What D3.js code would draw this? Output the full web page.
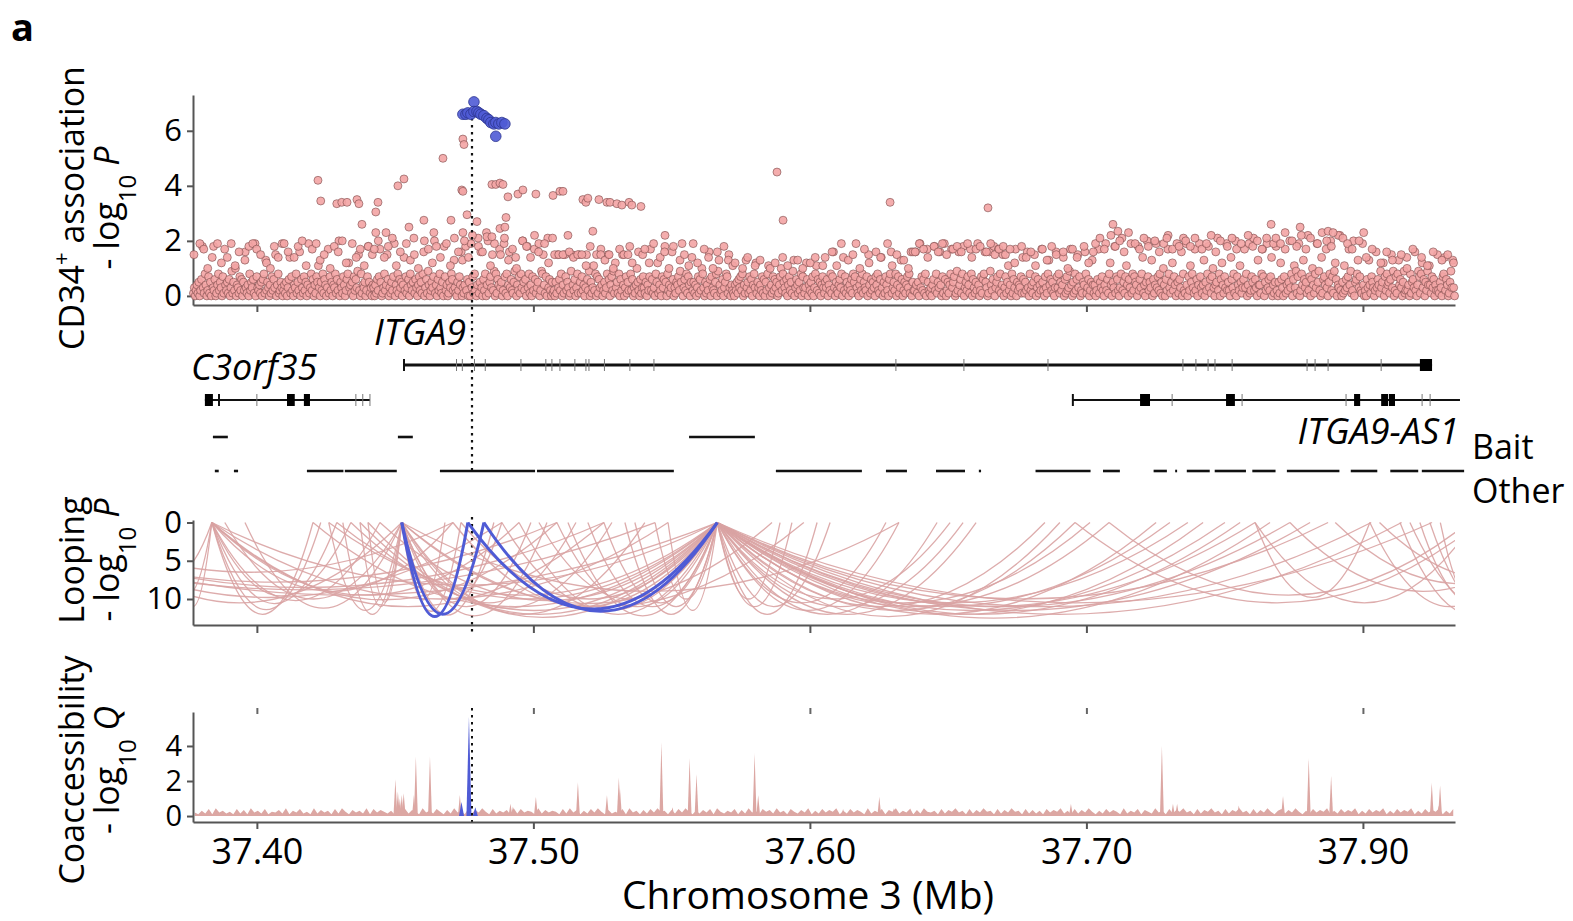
<!DOCTYPE html>
<html>
<head>
<meta charset="utf-8">
<script src="https://cdn.jsdelivr.net/npm/d3@7"></script>
<style>
body { margin: 0; background: #fff; }
text { font-family: "Open Sans", sans-serif; fill: #000; }
</style>
</head>
<body>
<svg id="chart" width="1573" height="921"></svg>
<script>
// ---- shared axis ----
var xDomain = [37.3769, 37.8333];
var xTicks = [37.40, 37.50, 37.60, 37.70, 37.80];
var xTickLabels = ["37.40", "37.50", "37.60", "37.70", "37.90"];
var leadSnp = 37.4778;

// ---- CD34+ association (-log10 P) ----
// background SNPs: one char per SNP, evenly spaced inside each row's stretch of the axis ('.' = none)
var snpAlphabet = "0123456789ABCDEFGHIJKLMNOP";   // index / 10 = -log10 P
var snpRows = [
  "1302415026I3184027150E3260148253071H42516039152A0431726052G3140825361J07324150681D2530417263F04812530",
  "2415036E1720438152G063172504J1382604175B3052816403H17250438162K0531740268C3415072639F2081435027I51304",
  "3041627H5013824F6031527J0428163504E2713608425L1630472518G03619402537K1406283150I7240153862D3105274G03",
  "14I26050J3718204L15G3062804K1573F2908164H3502J71804G362159E0427183K5260I3814072H6135J0298F4170L362051",
  "2051F3628041F7253019F4260381F5172403F6290513B2807163H4025138F6047291C3518062F4037152I8260314A5206137",
  "3150427H2613085C1420736I5082413G6031547295J0362817405E2514037162A8305142G6073215809D4126035871F30421",
  "0425163728041D3517260483C1530427160528B3041726350147A2853160472519D0364152807313C6042517038B26150473",
  "1536042817G3052146380E2715304261857J3104628153270F4162530748216E3051742068G1352804713D6025147381G052",
  "2G4150J3726180H5213046I28153G4071J6025148H3570192G4618I0352741H8063152J4027168G5301G9426I0357H2814F0",
  "3715B2408163H0524371E6152G3082415F7036142H5207318D4625103G7381524E0617239H4051826F3702154G8136025D41",
  "4026H1537204J2618C4053I1762038L2517B4063J1827540I2638E1405K7253D0614J3728150A4062H8315C2740J5163G082",
  "1J4072B5831H2604J7314D0528I3617A3045L2806C4173J2520E6381K0742B5136H3804J1275L2630D4418H7052J3627E041",
  "5I2051C6307H1425K3806B3917J0284D6351M2706A4183J5920E1674H3058K2719C6043M2051B2637H4912K0568D3721J40",
  "2063D4175302G3641935C07284516F3902718D46305912E24081563G2049718C3605294B41736042F2153078E26401593D30"
];
var snpMidRows = [
  "F..J.H.A..I.J.C..E.J.B.G..D.I.J.H.F..C.A.I.E.J",
  "J.G..E.I.K.B..H.J.D.F..A.I.G.K.C..J.E.H.B.I.F",
  "H.K..E.I.L.B.G..J.D.F.A..K.H.C.I.E..J.B.L.G.D",
  "K.E.M..I.G.N.B.J..F.L.D.H.A..K.I.E.M.G..J.C.L",
  "F.F.F..G.E.F.F.B.I..F.F.D.F.A..H.F.F.C..G.F",
  "H.C.J..E.G.A.I..D.F.B.J.C..H.E.A.G..I.D.B",
  "C..A.E..B.D...A.C..E.B...D.A..C.E..B",
  "E..G.B.J..D.F..A.H.C..G.E..J.B.F..D.A.G",
  "G.J.H.E..I.G.J.F..H.I.G..J.E.H.I..G.J.F.H.I",
  "F.H.C..I.E.G.B..H.D.I.F..G.A.H.E..I.C.G",
  "J.L.H..M.I.K.G.N..J.H.L.I..K.G.J.M.H..I.L",
  "K.I.L..H.J.M.G.K..I.L.H.J..M.I.K.H.L..J",
  "L.J.N..K.I.M.H.L..J.N.K.I..M.L.J.H..K.N",
  "E.H..C.G.D..F.A.H..E.B.G..D.F.C"
];
// isolated higher SNPs
var snpHighPos = [37.4221, 37.4231, 37.4289, 37.4307, 37.4326, 37.4362, 37.4369, 37.4380, 37.4430, 37.4438,
  37.4430, 37.4467, 37.4510, 37.4532, 37.4550, 37.4604, 37.4640, 37.4673, 37.4702, 37.4741,
  37.4745, 37.4745, 37.4749, 37.4745, 37.4760, 37.4796, 37.4832, 37.4850, 37.4850, 37.4864,
  37.4879, 37.4890, 37.4879, 37.4897, 37.4901, 37.4908, 37.4944, 37.4962, 37.5009, 37.5071,
  37.5096, 37.5107, 37.5125, 37.5179, 37.5190, 37.5197, 37.5215, 37.5237, 37.5266, 37.5277,
  37.5302, 37.5320, 37.5346, 37.5356, 37.5389, 37.5476, 37.5881, 37.5903, 37.6290, 37.6644,
  37.7096, 37.7114, 37.7291, 37.7668, 37.7773, 37.7874, 37.7892];
var snpHighVal = [4.2, 3.45, 3.35, 3.4, 3.4, 3.5, 3.35, 2.6, 3.05, 3.4,
  2.3, 2.3, 4.0, 4.25, 2.5, 2.75, 2.3, 5.0, 2.75, 3.85,
  3.8, 5.7, 5.5, 2.3, 2.95, 2.7, 2.15, 2.15, 4.05, 4.05,
  4.1, 4.05, 2.45, 2.5, 2.85, 3.6, 3.7, 3.85, 3.7, 3.65,
  3.8, 3.8, 2.2, 3.5, 3.4, 3.55, 2.35, 3.5, 3.4, 3.4,
  3.35, 3.3, 3.4, 3.3, 3.25, 2.2, 4.5, 2.75, 3.4, 3.2,
  2.6, 2.35, 2.1, 2.6, 2.5, 2.35, 2.3];
// lead SNP cluster (blue)
var leadPos = [37.4745, 37.4756, 37.4763, 37.4774, 37.4785, 37.4785, 37.4796, 37.4803, 37.4810, 37.4821,
  37.4832, 37.4839, 37.4846, 37.4857, 37.4864, 37.4875, 37.4886, 37.4897, 37.4864];
var leadVal = [6.6, 6.6, 6.65, 6.6, 7.05, 6.7, 6.7, 6.65, 6.6, 6.55,
  6.45, 6.4, 6.3, 6.25, 6.3, 6.25, 6.3, 6.25, 5.8];

// ---- genes ----
var itga9Line = [37.4532, 37.8250];
var itga9Ticks = [37.4532, 37.4722, 37.4743, 37.4787, 37.4826, 37.4955, 37.5045, 37.5067, 37.5096, 37.5150,
  37.5190, 37.5201, 37.5257, 37.5349, 37.5436, 37.6311, 37.6557, 37.6861, 37.7349, 37.7396,
  37.7440, 37.7465, 37.7527, 37.7798, 37.7827, 37.7874, 37.8066];
var itga9Boxes = [[37.8206, 37.8250]];
var c3Line = [37.3812, 37.4409];
var c3Ticks = [37.3863, 37.4000, 37.4358, 37.4383, 37.4409];
var c3Boxes = [[37.3812, 37.3841], [37.4109, 37.4137], [37.4170, 37.4192]];
var asLine = [37.6951, 37.8351];
var asTicks = [37.6951, 37.7310, 37.7563, 37.7939, 37.8214, 37.8243];
var asBoxes = [[37.7194, 37.7230], [37.7505, 37.7537], [37.7968, 37.7990], [37.8066, 37.8091], [37.8094, 37.8116]];
var baitFrags = [[37.3841, 37.3895], [37.4510, 37.4564], [37.5563, 37.5801]];
var otherFrags = [[37.3848, 37.3862], [37.3917, 37.3932], [37.4181, 37.4313], [37.4318, 37.4506],
  [37.4662, 37.5006], [37.5013, 37.5508], [37.5877, 37.6188], [37.6275, 37.6351], [37.6456, 37.6561],
  [37.6611, 37.6619], [37.6816, 37.7015], [37.7060, 37.7121], [37.7243, 37.7291], [37.7321, 37.7328],
  [37.7363, 37.7446], [37.7464, 37.7577], [37.7600, 37.7684], [37.7725, 37.7915], [37.7956, 37.8052],
  [37.8099, 37.8200], [37.8213, 37.8366]];

// ---- looping: [bait, other, -log10 P] ----
var loops = [
  [37.3837, 37.4203, 12.0], [37.3837, 37.4231, 11.4], [37.3837, 37.4289, 10.6], [37.3837, 37.4340, 9.6],
  [37.3837, 37.4445, 10.2], [37.3837, 37.4709, 9.0], [37.3837, 37.4948, 9.5], [37.3837, 37.5085, 10.1],
  [37.3837, 37.5255, 11.0], [37.3837, 37.5487, 10.0], [37.3837, 37.5665, 8.2], [37.3837, 37.3660, 9.5],
  [37.3837, 37.3700, 11.0], [37.3837, 37.3560, 7.0],
  [37.4524, 37.3884, 10.0], [37.4524, 37.3957, 11.2], [37.4524, 37.4260, 11.5], [37.4524, 37.4311, 12.0],
  [37.4524, 37.4373, 11.0], [37.4524, 37.4402, 10.4], [37.4524, 37.4680, 10.1], [37.4524, 37.4738, 11.6],
  [37.4524, 37.4857, 12.1], [37.4524, 37.4886, 10.0], [37.4524, 37.4991, 11.0], [37.4524, 37.5049, 12.2],
  [37.4524, 37.5154, 10.5], [37.4524, 37.5284, 11.2], [37.4524, 37.5403, 12.0], [37.4524, 37.5863, 10.6],
  [37.4524, 37.5978, 11.0], [37.4524, 37.6322, 9.0],
  [37.5665, 37.4203, 11.0], [37.5665, 37.4289, 10.0], [37.5665, 37.4340, 11.5], [37.5665, 37.4373, 12.0],
  [37.5665, 37.4445, 10.2], [37.5665, 37.4709, 11.0], [37.5665, 37.4738, 10.0], [37.5665, 37.4886, 11.5],
  [37.5665, 37.4948, 12.0], [37.5665, 37.5020, 10.0], [37.5665, 37.5085, 11.0], [37.5665, 37.5125, 12.2],
  [37.5665, 37.5197, 11.0], [37.5665, 37.5255, 10.5], [37.5665, 37.5331, 12.0], [37.5665, 37.5367, 11.0],
  [37.5665, 37.5440, 10.0], [37.5665, 37.5487, 11.5], [37.5665, 37.4260, 9.5], [37.5665, 37.4402, 12.4],
  [37.5665, 37.5892, 10.0], [37.5665, 37.5935, 11.0], [37.5665, 37.6026, 12.0], [37.5665, 37.6073, 11.0],
  [37.5665, 37.6275, 10.5], [37.5665, 37.6322, 11.5], [37.5665, 37.6460, 12.0], [37.5665, 37.6507, 10.0],
  [37.5665, 37.6554, 11.0], [37.5665, 37.6601, 12.0], [37.5665, 37.6850, 11.0], [37.5665, 37.6904, 12.3],
  [37.5665, 37.6959, 11.5], [37.5665, 37.7013, 10.5], [37.5665, 37.7082, 11.0], [37.5665, 37.7252, 12.0],
  [37.5665, 37.7302, 11.0], [37.5665, 37.7367, 10.5], [37.5665, 37.7422, 12.0], [37.5665, 37.7501, 11.5],
  [37.5665, 37.7556, 12.0], [37.5665, 37.7610, 11.0], [37.5665, 37.7664, 12.5], [37.5665, 37.7736, 11.0],
  [37.5665, 37.7809, 11.5], [37.5665, 37.7874, 10.0], [37.5665, 37.8030, 11.0], [37.5665, 37.8140, 12.0],
  [37.5665, 37.8250, 10.5],
  [37.3000, 37.5665, 9.5], [37.3100, 37.5255, 8.5], [37.3200, 37.4886, 9.8], [37.3350, 37.4524, 10.5],
  [37.3050, 37.5085, 7.8], [37.2900, 37.5440, 8.8], [37.3250, 37.4709, 6.5],
  [37.7610, 37.8400, 10.5], [37.7610, 37.8025, 9.8], [37.8025, 37.8600, 11.0], [37.8134, 37.8650, 12.0],
  [37.8170, 37.8750, 11.5], [37.8206, 37.8600, 10.8], [37.8242, 37.8700, 12.2], [37.8280, 37.8550, 11.5],
  [37.7736, 37.8700, 9.0], [37.7900, 37.8800, 8.0], [37.8060, 37.8900, 7.5], [37.6959, 37.8420, 10.5],
  [37.7082, 37.8380, 9.5]
];
var loopsHighlight = [
  [37.4524, 37.4763, 12.3], [37.4524, 37.4821, 12.0], [37.4763, 37.5665, 11.3], [37.4821, 37.5665, 11.6]
];

// ---- coaccessibility (-log10 Q) ----
var coaBackground =            // one digit per bin, digit * 0.05
  "426382946352837294638254739264835293746283952746392847536294837529463852739462837495283647293846529374652839472638495273" +
  "538294627384956273849526374829536482739462857394628537492638475926384752936482759364827395462837594628374956283749562837" +
  "362847593628374952638475293648275394628375946283759462837594628374952683749526384759263847592638475926384759263847592638";
var coaPeakPos = [37.4501, 37.4510, 37.4517, 37.4524, 37.4531, 37.4568, 37.4575, 37.4626, 37.4734,
  37.4917, 37.4926, 37.5009, 37.5161, 37.5266, 37.5309, 37.5313, 37.5463, 37.5503, 37.5565,
  37.5590, 37.5800, 37.5813, 37.6120, 37.6251, 37.6304, 37.6364, 37.6944, 37.7273, 37.7313,
  37.7328, 37.7551, 37.7711, 37.7804, 37.7885, 37.8249, 37.8274, 37.8279];
var coaPeakVal = [2.1, 1.4, 1.0, 1.2, 1.3, 1.2, 3.4, 3.4, 1.2,
  0.7, 0.55, 1.1, 1.95, 1.2, 2.2, 1.6, 4.2, 0.5, 3.3,
  2.4, 3.6, 1.2, 0.4, 1.1, 0.45, 0.45, 0.7, 4.0, 0.7,
  0.7, 0.6, 1.15, 3.3, 2.3, 1.9, 0.6, 1.75];
var coaLeadPos = [37.4740, 37.4767, 37.4790];
var coaLeadVal = [0.8, 5.65, 0.5];

// ---- drawing ----
var svg = d3.select("#chart");
var x = d3.scaleLinear().domain(xDomain).range([193, 1455]);
var yTop = d3.scaleLinear().domain([-0.33, 7.3]).range([305, 95]);
var yLoop = d3.scaleLinear().domain([-0.33, 13.4]).range([520, 625]);
var yCoa = d3.scaleLinear().domain([-0.34, 5.94]).range([822, 712]);

var pink = "#f3a4a4", pinkLine = "#d9a3a3", blue = "#4f5bd5";

function styleAxis(g, fs) {
  g.select(".domain").attr("stroke", "#555").attr("stroke-width", 2);
  g.selectAll(".tick line").attr("stroke", "#555").attr("stroke-width", 2);
  g.selectAll(".tick text").attr("font-size", fs).attr("font-family", "Open Sans").attr("fill", "#000");
}

function yTitle(cy, line1, line2Letter) {
  var t1 = svg.append("text").attr("transform", "translate(84," + cy + ") rotate(-90)")
    .attr("text-anchor", "middle").attr("font-size", 34);
  line1(t1);
  var t2 = svg.append("text").attr("transform", "translate(119," + cy + ") rotate(-90)")
    .attr("text-anchor", "middle").attr("font-size", 34);
  t2.append("tspan").text("- log");
  t2.append("tspan").attr("baseline-shift", "sub").attr("font-size", 24).text("10");
  t2.append("tspan").text(" ");
  t2.append("tspan").attr("font-style", "italic").text(line2Letter);
}

svg.append("text").attr("x", 11).attr("y", 41).attr("font-size", 38).attr("font-weight", "bold").text("a");

// panel 1
svg.append("g").attr("transform", "translate(0,305)")
  .call(d3.axisBottom(x).tickValues(xTicks).tickSize(7).tickFormat("").tickSizeOuter(0))
  .call(styleAxis, 31);
svg.append("g").attr("transform", "translate(193,0)")
  .call(d3.axisLeft(yTop).tickValues([0, 2, 4, 6]).tickSize(6).tickPadding(5).tickSizeOuter(0))
  .call(styleAxis, 31);

var snps = [];
function addRows(rows) {
  var rowW = (xDomain[1] - xDomain[0]) / rows.length;
  rows.forEach(function(row, r) {
    for (var i = 0; i < row.length; i++) {
      if (row[i] === ".") continue;
      snps.push({pos: xDomain[0] + r * rowW + (i + 0.5) / row.length * rowW, p: snpAlphabet.indexOf(row[i]) / 10});
    }
  });
}
addRows(snpRows);
addRows(snpMidRows);
snpHighPos.forEach(function(p, i) { snps.push({pos: p, p: snpHighVal[i]}); });

svg.append("g").selectAll("circle").data(snps).join("circle")
  .attr("cx", function(d) { return x(d.pos); })
  .attr("cy", function(d) { return yTop(d.p); })
  .attr("r", 4)
  .attr("fill", pink).attr("fill-opacity", 0.9)
  .attr("stroke", "#7c4a4a").attr("stroke-width", 0.75).attr("stroke-opacity", 0.8);

// dotted lead SNP lines
var dot = svg.append("g").attr("stroke", "#111").attr("stroke-width", 2.2).attr("stroke-dasharray", "2.5,4.5");
[[118, 472], [517, 633]].forEach(function(s) {
  dot.append("line").attr("x1", x(leadSnp)).attr("x2", x(leadSnp)).attr("y1", s[0]).attr("y2", s[1]);
});

svg.append("g").selectAll("circle").data(leadPos).join("circle")
  .attr("cx", function(d) { return x(d); })
  .attr("cy", function(d, i) { return yTop(leadVal[i]); })
  .attr("r", 5.3)
  .attr("fill", blue).attr("fill-opacity", 0.9)
  .attr("stroke", "#2c358f").attr("stroke-width", 0.8);

yTitle(208, function(t) {
  t.append("tspan").text("CD34");
  t.append("tspan").attr("baseline-shift", "super").attr("font-size", 22).text("+");
  t.append("tspan").text(" association");
}, "P");

// gene track
function gene(line, ticks, boxes, yc, lw, th) {
  var g = svg.append("g");
  g.append("line").attr("x1", x(line[0])).attr("x2", x(line[1])).attr("y1", yc).attr("y2", yc)
    .attr("stroke", "#111").attr("stroke-width", lw);
  g.selectAll("line.t").data(ticks).join("line").attr("class", "t")
    .attr("x1", function(d) { return x(d); }).attr("x2", function(d) { return x(d); })
    .attr("y1", yc - th).attr("y2", yc + th)
    .attr("stroke", function(d, i) { return i === 0 ? "#111" : "#777"; })
    .attr("stroke-width", function(d, i) { return i === 0 ? 2 : 1; });
  g.selectAll("rect").data(boxes).join("rect")
    .attr("x", function(d) { return x(d[0]); }).attr("width", function(d) { return x(d[1]) - x(d[0]); })
    .attr("y", yc - 6).attr("height", 12).attr("fill", "#000");
}
gene(itga9Line, itga9Ticks, itga9Boxes, 365, 3, 6);
gene(c3Line, c3Ticks, c3Boxes, 400, 2, 6);
gene(asLine, asTicks, asBoxes, 400, 2, 6);

function frags(list, yc) {
  svg.append("g").selectAll("line").data(list).join("line")
    .attr("x1", function(d) { return x(d[0]); }).attr("x2", function(d) { return x(d[1]); })
    .attr("y1", yc).attr("y2", yc).attr("stroke", "#111").attr("stroke-width", 2.6);
}
frags(baitFrags, 437);
frags(otherFrags, 471);

var gl = svg.append("g").attr("font-size", 36).attr("font-style", "italic");
gl.append("text").attr("x", 374).attr("y", 345).text("ITGA9");
gl.append("text").attr("x", 191).attr("y", 380).text("C3orf35");
gl.append("text").attr("x", 1459).attr("y", 444).attr("text-anchor", "end").text("ITGA9-AS1");
svg.append("text").attr("x", 1472).attr("y", 459).attr("font-size", 34).text("Bait");
svg.append("text").attr("x", 1472).attr("y", 503).attr("font-size", 34).text("Other");

// looping panel
svg.append("defs").append("clipPath").attr("id", "loopClip")
  .append("rect").attr("x", 194).attr("y", 500).attr("width", 1261).attr("height", 125);

function arcPath(d) {
  var p = d3.path();
  var a = d[0], b = d[1];
  p.moveTo(x(a), yLoop(0));
  p.quadraticCurveTo(x((a + b) / 2), yLoop(2 * d[2]), x(b), yLoop(0));
  return p.toString();
}
var lg = svg.append("g").attr("clip-path", "url(#loopClip)").attr("fill", "none");
lg.selectAll("path.pk").data(loops).join("path").attr("class", "pk")
  .attr("d", arcPath).attr("stroke", pinkLine).attr("stroke-width", 1.3).attr("stroke-opacity", 0.9);
lg.selectAll("path.hl").data(loopsHighlight).join("path").attr("class", "hl")
  .attr("d", arcPath).attr("stroke", blue).attr("stroke-width", 3);

svg.append("g").attr("transform", "translate(0,625)")
  .call(d3.axisBottom(x).tickValues(xTicks).tickSize(8).tickFormat("").tickSizeOuter(0))
  .call(styleAxis, 31);
svg.append("g").attr("transform", "translate(193,0)")
  .call(d3.axisLeft(yLoop).tickValues([0, 5, 10]).tickSize(6).tickPadding(5).tickSizeOuter(0))
  .call(styleAxis, 31);

yTitle(560, function(t) { t.text("Looping"); }, "P");

// coaccessibility panel
var nBins = coaBackground.length;
var binW = (xDomain[1] - xDomain[0]) / nBins;
var bg = coaBackground.split("").map(function(c, i) {
  return {pos: xDomain[0] + (i + 0.5) * binW, q: +c * 0.05};
});
svg.append("path").datum(bg)
  .attr("d", d3.area().x(function(d) { return x(d.pos); }).y0(yCoa(0)).y1(function(d) { return yCoa(d.q); }))
  .attr("fill", "#dca7a3");

var spikeHalf = 0.0007;
function spike(pos, v, half) {
  return d3.line()([[x(pos - half), yCoa(0)], [x(pos), yCoa(v)], [x(pos + half), yCoa(0)]]) + "Z";
}
svg.append("g").selectAll("path").data(coaPeakPos).join("path")
  .attr("d", function(d, i) { return spike(d, coaPeakVal[i], spikeHalf); })
  .attr("fill", "#dca7a3");
svg.append("g").selectAll("path").data(coaLeadPos).join("path")
  .attr("d", function(d, i) { return spike(d, coaLeadVal[i], spikeHalf * 1.3); })
  .attr("fill", blue);

svg.append("line").attr("x1", x(leadSnp)).attr("x2", x(leadSnp)).attr("y1", 708).attr("y2", 822)
  .attr("stroke", "#111").attr("stroke-width", 2).attr("stroke-dasharray", "2.5,4.5");

var topTicks = svg.append("g").attr("transform", "translate(0,714)")
  .call(d3.axisTop(x).tickValues(xTicks).tickSize(6).tickFormat(""));
topTicks.select(".domain").remove();
topTicks.selectAll(".tick line").attr("stroke", "#666").attr("stroke-width", 2);

svg.append("g").attr("transform", "translate(0,822)")
  .call(d3.axisBottom(x).tickValues(xTicks).tickSize(7).tickPadding(9).tickSizeOuter(0)
    .tickFormat(function(d, i) { return xTickLabels[i]; }))
  .call(styleAxis, 36);
svg.append("g").attr("transform", "translate(193,0)")
  .call(d3.axisLeft(yCoa).tickValues([0, 2, 4]).tickSize(6).tickPadding(5).tickSizeOuter(0)
    .tickFormat(d3.format("d")))
  .call(styleAxis, 29);

yTitle(770, function(t) { t.text("Coaccessibility"); }, "Q");

svg.append("text").attr("x", 808).attr("y", 909).attr("text-anchor", "middle").attr("font-size", 39)
  .text("Chromosome 3 (Mb)");
</script>
</body>
</html>
